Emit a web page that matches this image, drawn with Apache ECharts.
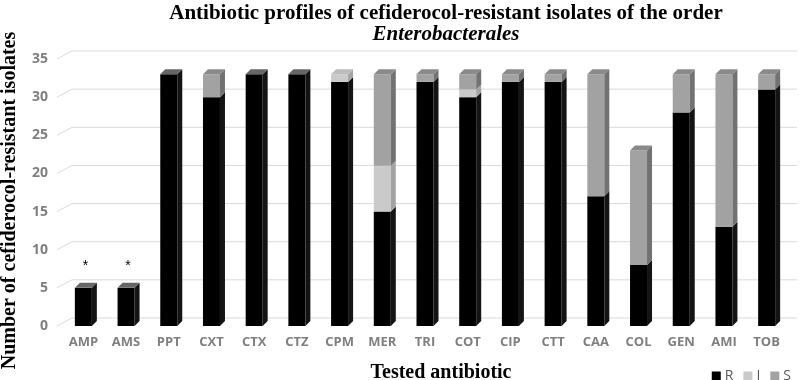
<!DOCTYPE html>
<html>
<head>
<meta charset="utf-8">
<script src="https://cdn.jsdelivr.net/npm/echarts@6/dist/echarts.min.js"></script>
<style>
  html, body { margin: 0; padding: 0; background: #fff; }
  #container { width: 800px; height: 380px; }
</style>
</head>
<body>
<div id="container"></div>
<script>
var categories = ['AMP', 'AMS', 'PPT', 'CXT', 'CTX', 'CTZ', 'CPM', 'MER', 'TRI', 'COT', 'CIP', 'CTT', 'CAA', 'COL', 'GEN', 'AMI', 'TOB'];
var resistant    = [5, 5, 33, 30, 33, 33, 32, 15, 32, 30, 32, 32, 17, 8, 28, 13, 31];
var intermediate = [0, 0, 0, 0, 0, 0, 1, 6, 0, 1, 0, 0, 0, 0, 0, 0, 0];
var susceptible  = [0, 0, 0, 3, 0, 0, 0, 12, 1, 2, 1, 1, 16, 15, 5, 20, 2];
var notes = ['*', '*', '', '', '', '', '', '', '', '', '', '', '', '', '', '', ''];
var yTicks = [0, 5, 10, 15, 20, 25, 30, 35];

var stacks = [resistant, intermediate, susceptible];
// front, side, top colours for R, I, S
var shades = [
    ['#000000', '#141414', '#666666'],
    ['#cacaca', '#a3a3a3', '#bdbdbd'],
    ['#a2a2a2', '#727272', '#8a8a8a']
];

var dom = document.querySelector('#container');
var myChart = echarts.init(dom);

var makeRender = function (k) {
    return function (params, api) {
        var i = api.value(0);
        var v = stacks[k][i];
        if (!v) return;
        var base = 0, above = 0;
        for (var j = 0; j < k; j++) base += stacks[j][i];
        for (var j = k + 1; j < stacks.length; j++) above += stacks[j][i];
        var p0 = api.coord([i, base]);
        var p1 = api.coord([i, base + v]);
        var w = 17, dx = 5, dy = -5;
        var x = p0[0] - w / 2, yb = p0[1], yt = p1[1];
        var c = shades[k];
        var kids = [
            { type: 'rect', shape: { x: x, y: yt, width: w, height: yb - yt }, style: { fill: c[0] } },
            { type: 'polygon', shape: { points: [[x + w, yt], [x + w + dx, yt + dy], [x + w + dx, yb + dy], [x + w, yb]] }, style: { fill: c[1] } }
        ];
        if (above === 0) {
            kids.push({ type: 'polygon', shape: { points: [[x, yt], [x + dx, yt + dy], [x + w + dx, yt + dy], [x + w, yt]] }, style: { fill: c[2] } });
        }
        if (k === 0 && notes[i]) {
            var total = resistant[i] + intermediate[i] + susceptible[i];
            var pt = api.coord([i, total]);
            kids.push({ type: 'text', style: { text: notes[i], x: pt[0] + 2, y: pt[1] - 22, align: 'center', verticalAlign: 'middle', fill: '#000', font: '14px "Liberation Sans"' } });
        }
        return { type: 'group', children: kids };
    };
};

var gridRender = function (params, api) {
    var y = api.coord([0, api.value(1)])[1];
    var cs = params.coordSys;
    return {
        type: 'polyline',
        shape: { points: [[cs.x - 5, y], [cs.x + 10, y - 8], [cs.x + cs.width + 9, y - 8]] },
        style: { stroke: '#d9d9d9', lineWidth: 1, fill: null }
    };
};

var names = ['R', 'I', 'S'];
var series = [{
    type: 'custom',
    name: 'grid',
    silent: true,
    z: 1,
    data: yTicks.map(function (v) { return [0, v]; }),
    encode: { x: 0, y: 1 },
    renderItem: gridRender
}];
stacks.forEach(function (arr, k) {
    series.push({
        type: 'custom',
        name: names[k],
        z: 2 + k,
        itemStyle: { color: shades[k][0] },
        data: arr.map(function (v, i) { return [i, v]; }),
        encode: { x: 0, y: 1 },
        renderItem: makeRender(k)
    });
});

var option = {
    animation: false,
    title: {
        left: 441,
        top: -2,
        textAlign: 'center',
        text: '{a|Antibiotic profiles of cefiderocol-resistant isolates of the order}\n{b|Enterobacterales}',
        textStyle: {
            rich: {
                a: { fontFamily: 'Liberation Serif', fontWeight: 'bold', fontSize: 21, color: '#000', lineHeight: 21 },
                b: { fontFamily: 'Liberation Serif', fontWeight: 'bold', fontStyle: 'italic', fontSize: 21, color: '#000', lineHeight: 21 }
            }
        }
    },
    legend: {
        right: 4,
        top: 364,
        data: names,
        icon: 'rect',
        itemWidth: 9,
        itemHeight: 9,
        itemGap: 10,
        textStyle: { fontFamily: 'Open Sans', fontSize: 14, color: '#595959', padding: [0, 0, 0, -1] }
    },
    grid: { left: 62, right: 12, top: 59, bottom: 54, outerBoundsMode: 'none' },
    xAxis: {
        type: 'category',
        data: categories,
        name: 'Tested antibiotic',
        nameLocation: 'middle',
        nameGap: 37,
        nameTextStyle: { fontFamily: 'Liberation Serif', fontWeight: 'bold', fontSize: 20, color: '#000', padding: [0, 0, 0, 32] },
        axisLine: { show: false },
        axisTick: { show: false },
        axisLabel: { margin: 10, fontFamily: 'Open Sans', fontWeight: 'bold', fontSize: 13, color: '#7f7f7f' }
    },
    yAxis: {
        type: 'value',
        min: 0,
        max: 35,
        interval: 5,
        name: 'Number of cefiderocol-resistant isolates',
        nameLocation: 'middle',
        nameGap: 42,
        nameTextStyle: { fontFamily: 'Liberation Serif', fontWeight: 'bold', fontSize: 20, color: '#000', padding: [0, 16, 0, 0] },
        axisLine: { show: false },
        axisTick: { show: false },
        splitLine: { show: false },
        axisLabel: { margin: 14, fontFamily: 'Open Sans', fontWeight: 'bold', fontSize: 14, color: '#7f7f7f' }
    },
    series: series
};

myChart.setOption(option);
</script>
</body>
</html>
